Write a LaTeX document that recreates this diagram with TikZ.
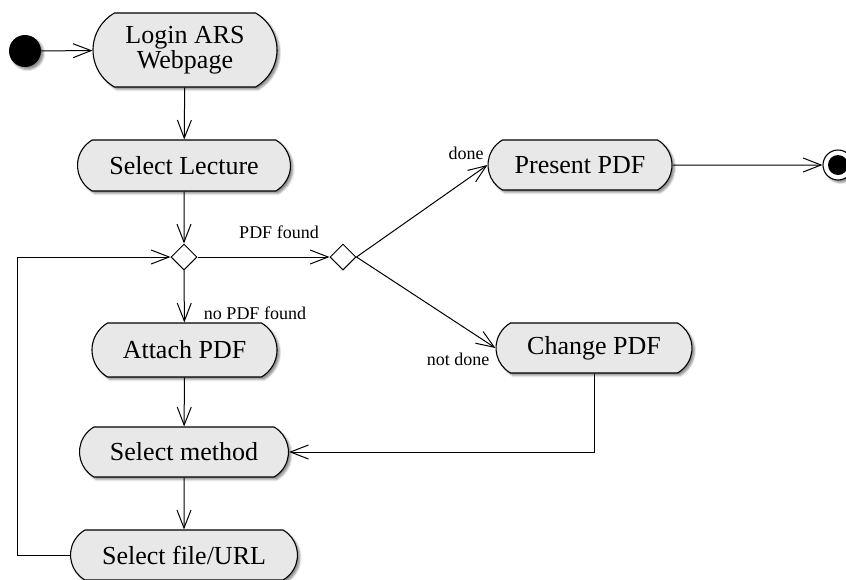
\documentclass[tikz,border=0pt]{standalone}
\usepackage{fontspec}
\setmainfont{Liberation Serif}
\usetikzlibrary{shapes.misc,shapes.geometric,arrows.meta,shadows.blur}

\tikzset{
  shade/.style={blur shadow={shadow xshift=2.5pt, shadow yshift=-2.5pt,
      shadow blur radius=2pt, shadow opacity=45}},
  action/.style={rounded rectangle, rounded rectangle arc length=120,
      draw, line width=1.1pt, fill=gray!18, shade, inner xsep=0pt, inner ysep=0pt,
      font=\fontsize{26}{22.5}\selectfont, align=center},
  choice/.style={diamond, draw, line width=1pt, fill=white, inner sep=0pt,
      minimum width=26pt, minimum height=26pt},
  flow/.style={line width=1pt, -{Straight Barb[length=18pt,width=14pt,line width=1pt]}},
  guard/.style={font=\fontsize{18}{20}\selectfont, anchor=base, inner sep=0pt},
}

\begin{document}
\begin{tikzpicture}[x=1pt,y=-1pt]
  \useasboundingbox (0,0) rectangle (846,579);

  % initial and final states
  \node[circle, fill=black, minimum size=32pt, inner sep=0pt, shade] (start) at (25,51) {};
  \node[circle, draw, line width=1.1pt, fill=white, minimum size=30pt, inner sep=0pt, shade] (stop) at (838,165) {};
  \node[circle, fill=black, minimum size=20pt, inner sep=0pt] (stopdot) at (838,165) {};

  % actions
  \node[action, minimum width=184pt, minimum height=74pt] (login)   at (185,50)  {Login ARS\\Webpage};
  \node[action, minimum width=213pt, minimum height=51pt] (lecture) at (184,165.5) {Select Lecture};
  \node[action, minimum width=185pt, minimum height=54pt] (attach)  at (184.5,350) {Attach PDF};
  \node[action, minimum width=209pt, minimum height=50pt] (method)  at (184,452) {Select method};
  \node[action, minimum width=227pt, minimum height=50pt] (file)    at (184,555) {Select file/URL};
  \node[action, minimum width=184pt, minimum height=50pt] (present) at (580,165) {Present PDF};
  \node[action, minimum width=196pt, minimum height=50pt] (change)  at (594,348) {Change PDF};

  % decisions
  \node[choice] (found) at (184,257) {};
  \node[choice] (isdone) at (343,257) {};

  % guards
  \node[guard] (gfound)   at (279,238) {PDF found};
  \node[guard] (gnofound) at (255,319) {no PDF found};
  \node[guard] (gdone)    at (466,159) {done};
  \node[guard] (gnotdone) at (458,365) {not done};

  % control flow
  \draw[flow] (start) -- (login);
  \draw[flow] (login) -- (lecture);
  \draw[flow] (lecture) -- (found);
  \draw[flow] (found) -- (isdone);
  \draw[flow] (found) -- (attach);
  \draw[flow] (isdone.east) -- (present.west);
  \draw[flow] (isdone.east) -- (change.west);
  \draw[flow] (present) -- (stop);
  \draw[flow] (attach) -- (method);
  \draw[flow] (method) -- (file);
  \coordinate (loopcorner) at (17,555);
  \draw[flow] (file.west) -- (loopcorner) |- (found.west);
  \draw[flow] (change.south) |- (method.east);
\end{tikzpicture}
\end{document}
